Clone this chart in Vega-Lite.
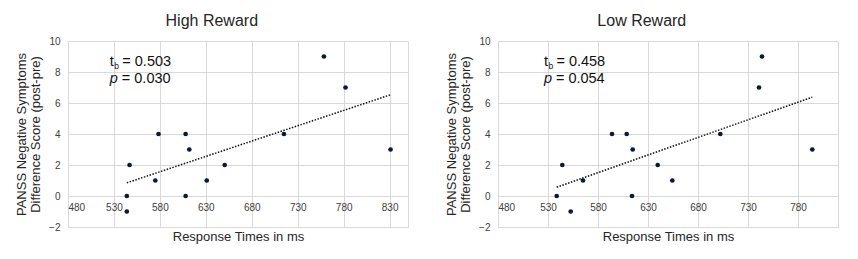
{
  "$schema": "https://vega.github.io/schema/vega-lite/v6.json",
  "background": "white",
  "padding": {"left": 15, "top": 12, "right": 5, "bottom": 5},
  "config": {
    "font": "Liberation Sans",
    "view": {"stroke": "#d9d9d9", "strokeWidth": 1},
    "axis": {"gridColor": "#d9d9d9", "gridWidth": 1, "labelColor": "#404040", "titleColor": "#262626", "titleFontWeight": "normal"},
    "title": {"fontSize": 16, "fontWeight": "normal", "color": "#262626", "frame": "bounds", "anchor": "middle", "offset": 7}
  },
  "spacing": 36,
  "data": {
    "values": [
      {"reward": "High", "rt": 544, "score": -1},
      {"reward": "High", "rt": 544, "score": 0},
      {"reward": "High", "rt": 547, "score": 2},
      {"reward": "High", "rt": 575, "score": 1},
      {"reward": "High", "rt": 578.5, "score": 4},
      {"reward": "High", "rt": 608, "score": 4},
      {"reward": "High", "rt": 608, "score": 0},
      {"reward": "High", "rt": 612, "score": 3},
      {"reward": "High", "rt": 631, "score": 1},
      {"reward": "High", "rt": 650.5, "score": 2},
      {"reward": "High", "rt": 715, "score": 4},
      {"reward": "High", "rt": 758.5, "score": 9},
      {"reward": "High", "rt": 782, "score": 7},
      {"reward": "High", "rt": 831, "score": 3},
      {"reward": "Low", "rt": 538.7, "score": 0},
      {"reward": "Low", "rt": 544.3, "score": 2},
      {"reward": "Low", "rt": 552.7, "score": -1},
      {"reward": "Low", "rt": 565, "score": 1},
      {"reward": "Low", "rt": 594, "score": 4},
      {"reward": "Low", "rt": 608.7, "score": 4},
      {"reward": "Low", "rt": 614.7, "score": 3},
      {"reward": "Low", "rt": 614, "score": 0},
      {"reward": "Low", "rt": 639.7, "score": 2},
      {"reward": "Low", "rt": 654.3, "score": 1},
      {"reward": "Low", "rt": 702.3, "score": 4},
      {"reward": "Low", "rt": 741, "score": 7},
      {"reward": "Low", "rt": 744, "score": 9},
      {"reward": "Low", "rt": 794.3, "score": 3}
    ]
  },
  "hconcat": [
    {
      "title": "High Reward",
      "width": 340,
      "height": 186,
      "transform": [{"filter": "datum.reward === 'High'"}],
      "encoding": {
        "x": {"field": "rt", "type": "quantitative", "scale": {"domain": [480, 850], "nice": false, "zero": false},
          "axis": {"values": [480, 530, 580, 630, 680, 730, 780, 830], "offset": -31, "domain": false, "ticks": false, "labelPadding": 6, "labelFontSize": 10, "title": "Response Times in ms", "titleFontSize": 13, "titleBaseline": "alphabetic", "titleY": 44}},
        "y": {"field": "score", "type": "quantitative", "scale": {"domain": [-2, 10], "nice": false, "zero": false},
          "axis": {"values": [-2, 0, 2, 4, 6, 8, 10], "domain": false, "ticks": false, "labelPadding": 8, "labelFontSize": 10, "title": ["PANSS Negative Symptoms", "Difference Score (post-pre)"], "titleFontSize": 13, "titleLineHeight": 14, "titlePadding": 6}}
      },
      "layer": [
        {"mark": {"type": "circle", "size": 22, "color": "#0b1836", "opacity": 1}},
        {"transform": [{"regression": "score", "on": "rt"}], "mark": {"type": "line", "color": "#111", "strokeWidth": 1.5, "strokeDash": [1.5, 1.5]}},
        {
          "transform": [{"aggregate": [{"op": "min", "field": "rt", "as": "rt"}, {"op": "min", "field": "score", "as": "score"}]}],
          "encoding": {"x": {"datum": 525.5}, "y": {"datum": 8.38}},
          "layer": [
            {"mark": {"type": "text", "text": "t", "fontSize": 14.5, "align": "left", "baseline": "alphabetic", "color": "#111"}},
            {"mark": {"type": "text", "text": "b", "fontSize": 8.5, "align": "left", "baseline": "alphabetic", "dx": 4.5, "dy": 3, "color": "#111"}},
            {"mark": {"type": "text", "text": "= 0.503", "fontSize": 14.5, "align": "left", "baseline": "alphabetic", "dx": 12.5, "color": "#111"}}
          ]
        },
        {
          "transform": [{"aggregate": [{"op": "min", "field": "rt", "as": "rt"}, {"op": "min", "field": "score", "as": "score"}]}],
          "encoding": {"x": {"datum": 525.5}, "y": {"datum": 7.28}},
          "layer": [
            {"mark": {"type": "text", "text": "p", "fontSize": 14.5, "fontStyle": "italic", "align": "left", "baseline": "alphabetic", "color": "#111"}},
            {"mark": {"type": "text", "text": "= 0.030", "fontSize": 14.5, "align": "left", "baseline": "alphabetic", "dx": 12, "color": "#111"}}
          ]
        }
      ]
    },
    {
      "title": "Low Reward",
      "width": 340,
      "height": 186,
      "transform": [{"filter": "datum.reward === 'Low'"}],
      "encoding": {
        "x": {"field": "rt", "type": "quantitative", "scale": {"domain": [480, 820], "nice": false, "zero": false},
          "axis": {"values": [480, 530, 580, 630, 680, 730, 780], "offset": -31, "domain": false, "ticks": false, "labelPadding": 6, "labelFontSize": 10, "title": "Response Times in ms", "titleFontSize": 13, "titleBaseline": "alphabetic", "titleY": 44}},
        "y": {"field": "score", "type": "quantitative", "scale": {"domain": [-2, 10], "nice": false, "zero": false},
          "axis": {"values": [-2, 0, 2, 4, 6, 8, 10], "domain": false, "ticks": false, "labelPadding": 8, "labelFontSize": 10, "title": ["PANSS Negative Symptoms", "Difference Score (post-pre)"], "titleFontSize": 13, "titleLineHeight": 14, "titlePadding": 6}}
      },
      "layer": [
        {"mark": {"type": "circle", "size": 22, "color": "#0b1836", "opacity": 1}},
        {"transform": [{"regression": "score", "on": "rt"}], "mark": {"type": "line", "color": "#111", "strokeWidth": 1.5, "strokeDash": [1.5, 1.5]}},
        {
          "transform": [{"aggregate": [{"op": "min", "field": "rt", "as": "rt"}, {"op": "min", "field": "score", "as": "score"}]}],
          "encoding": {"x": {"datum": 525.9}, "y": {"datum": 8.38}},
          "layer": [
            {"mark": {"type": "text", "text": "t", "fontSize": 14.5, "align": "left", "baseline": "alphabetic", "color": "#111"}},
            {"mark": {"type": "text", "text": "b", "fontSize": 8.5, "align": "left", "baseline": "alphabetic", "dx": 4.5, "dy": 3, "color": "#111"}},
            {"mark": {"type": "text", "text": "= 0.458", "fontSize": 14.5, "align": "left", "baseline": "alphabetic", "dx": 12.5, "color": "#111"}}
          ]
        },
        {
          "transform": [{"aggregate": [{"op": "min", "field": "rt", "as": "rt"}, {"op": "min", "field": "score", "as": "score"}]}],
          "encoding": {"x": {"datum": 525.9}, "y": {"datum": 7.28}},
          "layer": [
            {"mark": {"type": "text", "text": "p", "fontSize": 14.5, "fontStyle": "italic", "align": "left", "baseline": "alphabetic", "color": "#111"}},
            {"mark": {"type": "text", "text": "= 0.054", "fontSize": 14.5, "align": "left", "baseline": "alphabetic", "dx": 12, "color": "#111"}}
          ]
        }
      ]
    }
  ]
}
